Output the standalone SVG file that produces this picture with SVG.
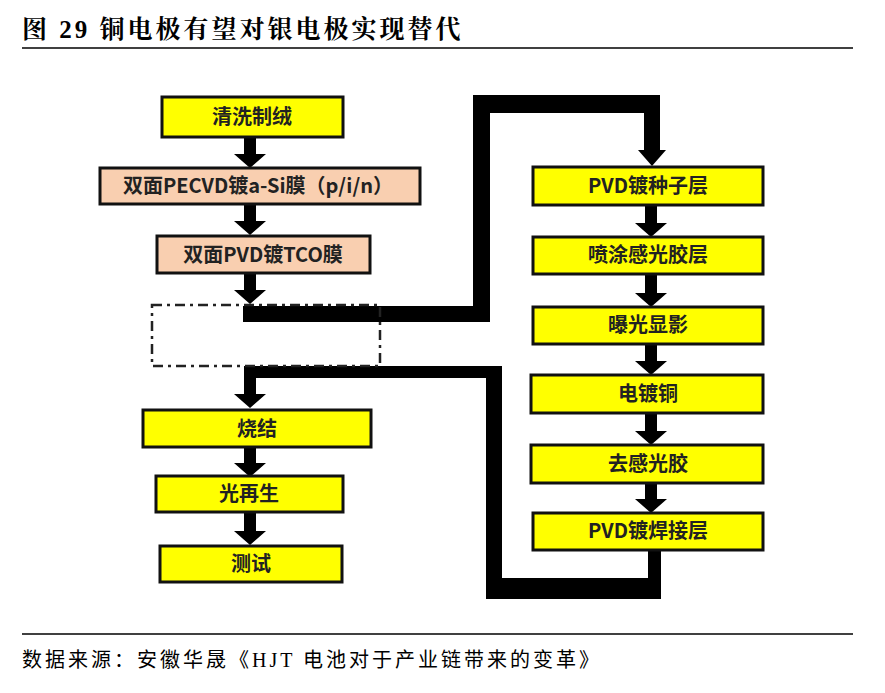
<svg xmlns="http://www.w3.org/2000/svg" width="885" height="693" viewBox="0 0 885 693">
<style>
.y{fill:#ffff00;stroke:#111;stroke-width:3}
.p{fill:#f9cfb0;stroke:#111;stroke-width:3}
.t{font-family:"Noto Sans CJK SC","Noto Sans",sans-serif;font-size:20px;font-weight:bold;text-anchor:middle;fill:#222}
.h{font-family:"Liberation Serif","Noto Serif CJK SC","Noto Sans CJK SC",serif;font-weight:bold;font-size:25px;letter-spacing:3px;fill:#000}
.f{font-family:"Liberation Serif","Noto Sans CJK SC",serif;font-size:20px;letter-spacing:3px;fill:#000}
.c{fill:#000}
</style>
<rect width="885" height="693" fill="#fff"/>
<text class="h" x="22" y="38">图 29 铜电极有望对银电极实现替代</text>
<line x1="22" y1="48" x2="853" y2="48" stroke="#000" stroke-width="1.5"/>
<g id="connectors" class="c">
<path d="M244 138h12v16h10l-16 14l-16-14h10z"/>
<path d="M244 205h12v16h10l-16 14l-16-14h10z"/>
<path d="M244 274h12v16h10l-16 14l-16-14h10z"/>
<path d="M243 306H473V95H660V150H666L652 166L638 150H644V113H490V322H243z"/>
<path d="M645 206h12v17h10l-16 14l-16-14h10z"/>
<path d="M645 275h12v18h10l-16 14l-16-14h10z"/>
<path d="M645 345h12v16h10l-16 14l-16-14h10z"/>
<path d="M645 414h12v17h10l-16 14l-16-14h10z"/>
<path d="M645 484h12v15h10l-16 14l-16-14h10z"/>
<path d="M648 551H661V599H486V378H244V366H502V578H648z"/>
<path d="M244 378h12v16h10l-16 14l-16-14h10z"/>
<path d="M244 448h12v15h10l-16 14l-16-14h10z"/>
<path d="M244 513h12v18h10l-16 14l-16-14h10z"/>
</g>
<g id="n1"><rect class="y" x="162" y="97" width="181" height="40"/><text class="t" x="252" y="124">清洗制绒</text></g>
<g id="n2"><rect class="p" x="100" y="168" width="320" height="36"/><text class="t" x="258" y="193">双面PECVD镀a-Si膜（p/i/n）</text></g>
<g id="n3"><rect class="p" x="157" y="236" width="213" height="37"/><text class="t" x="263" y="262">双面PVD镀TCO膜</text></g>
<g id="n4"><rect x="152" y="305" width="228" height="61" fill="none" stroke="#222" stroke-width="2.5" stroke-dasharray="10,5,3,5"/></g>
<g id="n5"><rect class="y" x="143" y="410" width="228" height="37"/><text class="t" x="257" y="436">烧结</text></g>
<g id="n6"><rect class="y" x="156" y="476" width="187" height="36"/><text class="t" x="249" y="501">光再生</text></g>
<g id="n7"><rect class="y" x="160" y="546" width="182" height="36"/><text class="t" x="251" y="571">测试</text></g>
<g id="r1"><rect class="y" x="533" y="167" width="230" height="38"/><text class="t" x="648" y="193">PVD镀种子层</text></g>
<g id="r2"><rect class="y" x="533" y="237" width="230" height="37"/><text class="t" x="648" y="262">喷涂感光胶层</text></g>
<g id="r3"><rect class="y" x="533" y="307" width="230" height="37"/><text class="t" x="648" y="332">曝光显影</text></g>
<g id="r4"><rect class="y" x="531" y="375" width="232" height="38"/><text class="t" x="648" y="401">电镀铜</text></g>
<g id="r5"><rect class="y" x="531" y="445" width="232" height="38"/><text class="t" x="648" y="471">去感光胶</text></g>
<g id="r6"><rect class="y" x="533" y="513" width="230" height="37"/><text class="t" x="648" y="538">PVD镀焊接层</text></g>
<line x1="22" y1="634" x2="853" y2="634" stroke="#000" stroke-width="1.5"/>
<text class="f" x="22" y="667">数据来源：安徽华晟《HJT 电池对于产业链带来的变革》</text>
</svg>
